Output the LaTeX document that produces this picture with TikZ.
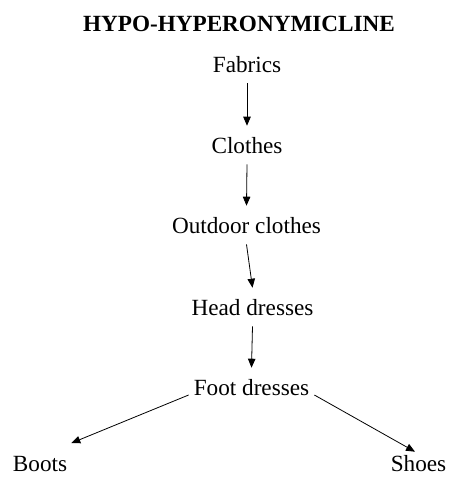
\documentclass[tikz,border=0pt]{standalone}
\usepackage{fontspec}
\setmainfont{Liberation Serif}
\usetikzlibrary{arrows.meta}
\begin{document}
\begin{tikzpicture}[x=1pt,y=-1pt,
  term/.style={anchor=base,inner xsep=5pt,inner ysep=11pt,font=\fontsize{23.2}{28}\selectfont},
  leaf/.style={anchor=base,inner xsep=4pt,inner ysep=0pt,font=\fontsize{23.2}{28}\selectfont},
  titlestyle/.style={anchor=base,inner sep=0pt,font=\fontsize{23.2}{28}\selectfont\bfseries},
  link/.style={line width=0.8pt,-{Triangle[length=9pt,width=7.5pt]}}]
\useasboundingbox (0,0) rectangle (448,477);
\node[titlestyle] (title) at (239,31) {HYPO-HYPERONYMICLINE};
\node[term] (fab) at (247,72) {Fabrics};
\node[term] (clo) at (247,153) {Clothes};
\node[term] (out) at (246.5,233) {Outdoor clothes};
\node[term] (head) at (252.5,315) {Head dresses};
\node[term] (foot) at (251.5,395) {Foot dresses};
\node[leaf] (boots) at (40,471) {Boots};
\node[leaf,inner xsep=0pt] (shoes) at (418.5,471) {Shoes};
\draw[link] (fab.south) -- (clo.north);
\draw[link] (clo.south) -- (out.north);
\draw[link] (out.south) -- (head.north);
\draw[link] (head.south) -- (foot.north);
\draw[link] (foot.base west) -- ([yshift=12.5pt]boots.north east);
\draw[link] (foot.base east) -- ([yshift=3pt,xshift=-3.5pt]shoes.north);
\end{tikzpicture}
\end{document}
